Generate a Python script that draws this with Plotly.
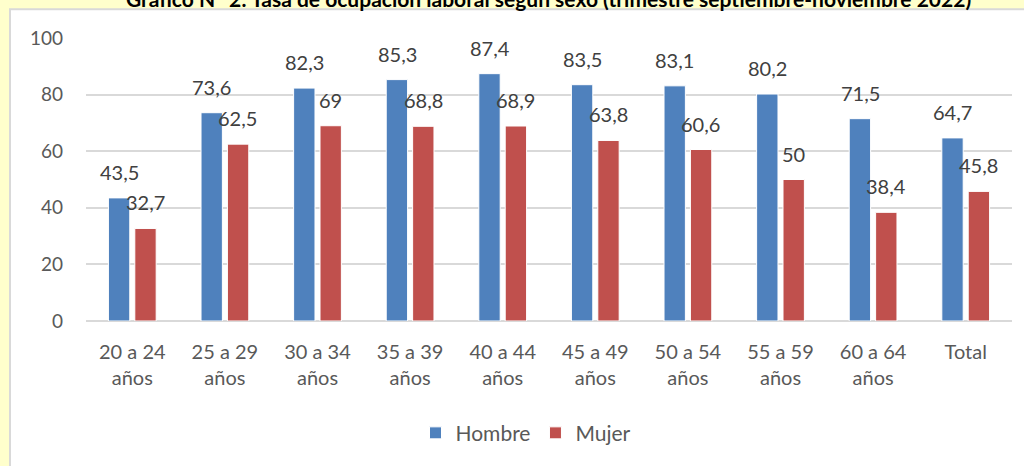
import plotly.graph_objects as go

categories = ["20 a 24<br>años", "25 a 29<br>años", "30 a 34<br>años", "35 a 39<br>años",
              "40 a 44<br>años", "45 a 49<br>años", "50 a 54<br>años", "55 a 59<br>años",
              "60 a 64<br>años", "Total"]
hombre = [43.5, 73.6, 82.3, 85.3, 87.4, 83.5, 83.1, 80.2, 71.5, 64.7]
mujer = [32.7, 62.5, 69, 68.8, 68.9, 63.8, 60.6, 50, 38.4, 45.8]
y_ticks = [0, 20, 40, 60, 80, 100]
title = "Gráfico N° 2: Tasa de ocupación laboral según sexo (trimestre septiembre-noviembre 2022)"

BLUE = "#4F81BD"
RED = "#C0504D"
FONT = "Lato"

W, H = 1024, 466
L, R, T, B = 86, 12, 38, 143
pw, ph = W - L - R, H - T - B


def px_x(px):
    return (px - L) / pw


def px_y(py):
    return (H - B - py) / ph


def fmt(v):
    s = ("%g" % v)
    return s.replace(".", ",")


fig = go.Figure()
fig.add_trace(go.Bar(name="Hombre", x=categories, y=hombre, marker_color=BLUE,
                     marker_line=dict(color="white", width=1)))
fig.add_trace(go.Bar(name="Mujer", x=categories, y=mujer, marker_color=RED,
                     marker_line=dict(color="white", width=1)))

annotations = []
for c, v in zip(categories, hombre):
    annotations.append(dict(x=c, y=v, xref="x", yref="y", text=fmt(v), showarrow=False,
                            xshift=-13, yshift=26, yanchor="middle",
                            font=dict(family=FONT, size=20, color="#404040")))
for c, v in zip(categories, mujer):
    annotations.append(dict(x=c, y=v, xref="x", yref="y", text=fmt(v), showarrow=False,
                            xshift=13, yshift=26, yanchor="middle",
                            font=dict(family=FONT, size=20, color="#404040")))
annotations.append(dict(x=px_x(548), y=px_y(-2), xref="paper", yref="paper", text="<b>" + title + "</b>",
                        showarrow=False, xanchor="center", yanchor="middle",
                        font=dict(family=FONT, size=21, color="#000000")))

shapes = [dict(type="rect", xref="paper", yref="paper", x0=px_x(10), x1=px_x(1030),
               y0=px_y(470), y1=px_y(9), fillcolor="white",
               line=dict(color="#D9D9D9", width=2), layer="below")]

fig.update_layout(
    width=W, height=H,
    margin=dict(l=L, r=R, t=T, b=B, pad=0),
    paper_bgcolor="#FFFFCC",
    plot_bgcolor="rgba(0,0,0,0)",
    barmode="group", bargap=0.43, bargroupgap=0.19,
    font=dict(family=FONT, size=20, color="#595959"),
    showlegend=True,
    legend=dict(orientation="h", x=px_x(526), y=px_y(436), xanchor="center", yanchor="middle",
                font=dict(family=FONT, size=21, color="#595959"), itemwidth=30,
                bgcolor="rgba(0,0,0,0)"),
    annotations=annotations,
    shapes=shapes,
    xaxis=dict(showline=False, showgrid=False, ticks="", ticklabelstandoff=17,
               tickfont=dict(size=20, color="#595959")),
    yaxis=dict(range=[0, 100], tickvals=y_ticks, showgrid=True, gridcolor="#D9D9D9", gridwidth=1.5,
               zeroline=True, zerolinecolor="#D9D9D9", zerolinewidth=1.5, showline=False,
               ticks="", ticklabelstandoff=22, tickfont=dict(size=19, color="#595959")),
)

fig.write_html("out.html")
